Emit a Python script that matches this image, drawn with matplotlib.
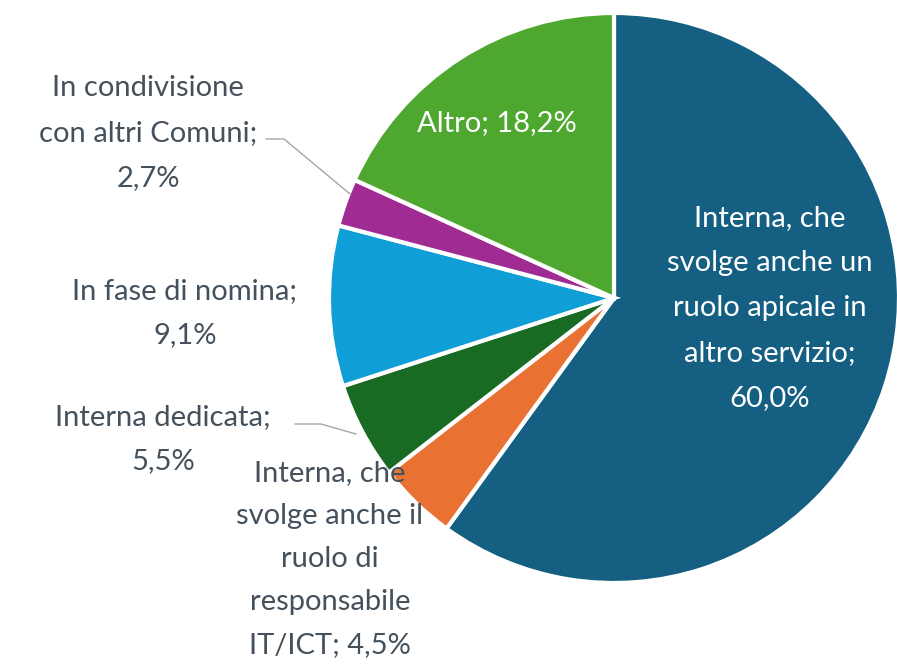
import matplotlib.pyplot as plt

# data
labels = ["Interna, che\nsvolge anche un\nruolo apicale in\naltro servizio;\n60,0%",
          "Interna, che\nsvolge anche il\nruolo di\nresponsabile\nIT/ICT; 4,5%",
          "Interna dedicata;\n5,5%",
          "In fase di nomina;\n9,1%",
          "In condivisione\ncon altri Comuni;\n2,7%",
          "Altro; 18,2%"]
values = [60.0, 4.5, 5.5, 9.1, 2.7, 18.2]
colors = ["#156082", "#E97132", "#196B24", "#0F9ED5", "#A02B93", "#4EA72E"]

W, H = 897, 666
fig = plt.figure(figsize=(W / 100, H / 100), dpi=100)
ax = fig.add_axes([0, 0, 1, 1])

cx, cy, r = 614, H - 298, 285
ax.pie(values, colors=colors, startangle=90, counterclock=False,
       center=(cx, cy), radius=r,
       wedgeprops=dict(edgecolor="white", linewidth=3))

txt = "#44515C"
fs = 21
font = "Lato"
# label positions (pixel coords, y from top)
pos = [(770, 308, "white"), (330, 559, txt), (163, 439, txt),
       (185, 313, txt), (148, 133, txt), (497, 123, "white")]
for lab, (x, y, c) in zip(labels, pos):
    ls = 1.82 if lab.startswith("Interna, che\nsvolge anche il") else 1.9
    ax.text(x, H - y, lab, ha="center", va="center", color=c,
            fontsize=fs, family=font, linespacing=ls)

# leader lines
ax.plot([266, 284, 350], [H - 139, H - 139, H - 194], color="#A6A6A6", lw=1)
ax.plot([295, 321, 356], [H - 424, H - 424, H - 434], color="#A6A6A6", lw=1)

ax.set_xlim(0, W)
ax.set_ylim(0, H)
ax.axis("off")
fig.savefig("out.png", dpi=100)
